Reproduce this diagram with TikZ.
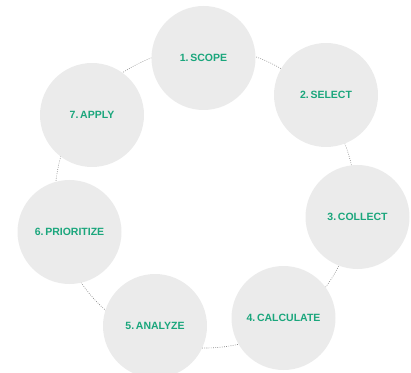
\documentclass[tikz,border=0pt]{standalone}
\usepackage{fontspec}
\setmainfont{Liberation Sans}
\definecolor{stepgreen}{RGB}{26,166,124}
\definecolor{stepfill}{RGB}{235,235,235}
\definecolor{ringgray}{RGB}{135,135,135}
\tikzset{
  stepcircle/.style={circle, fill=stepfill, minimum size=104pt, inner sep=0pt,
    text=stepgreen, font=\fontsize{10.5}{12}\selectfont\bfseries},
  ring/.style={draw=ringgray, line width=0.6pt, dash pattern=on 0.8pt off 1.4pt}
}
\begin{document}
\begin{tikzpicture}[x=1pt,y=1pt]
\useasboundingbox (0,0) rectangle (411,372);
\coordinate (ringc) at (205,174);
\draw[ring] (ringc) circle[radius=150];
\node[stepcircle] (s1) at (203.5,314) {1.\,SCOPE};
\node[stepcircle] (s2) at (326,277) {2.\,SELECT};
\node[stepcircle] (s3) at (357.5,155) {3.\,COLLECT};
\node[stepcircle] (s4) at (283.5,54) {4.\,CALCULATE};
\node[stepcircle] (s5) at (155,46) {5.\,ANALYZE};
\node[stepcircle] (s6) at (69.5,140) {6.\,PRIORITIZE};
\node[stepcircle] (s7) at (92,257) {7.\,APPLY};
\end{tikzpicture}
\end{document}
